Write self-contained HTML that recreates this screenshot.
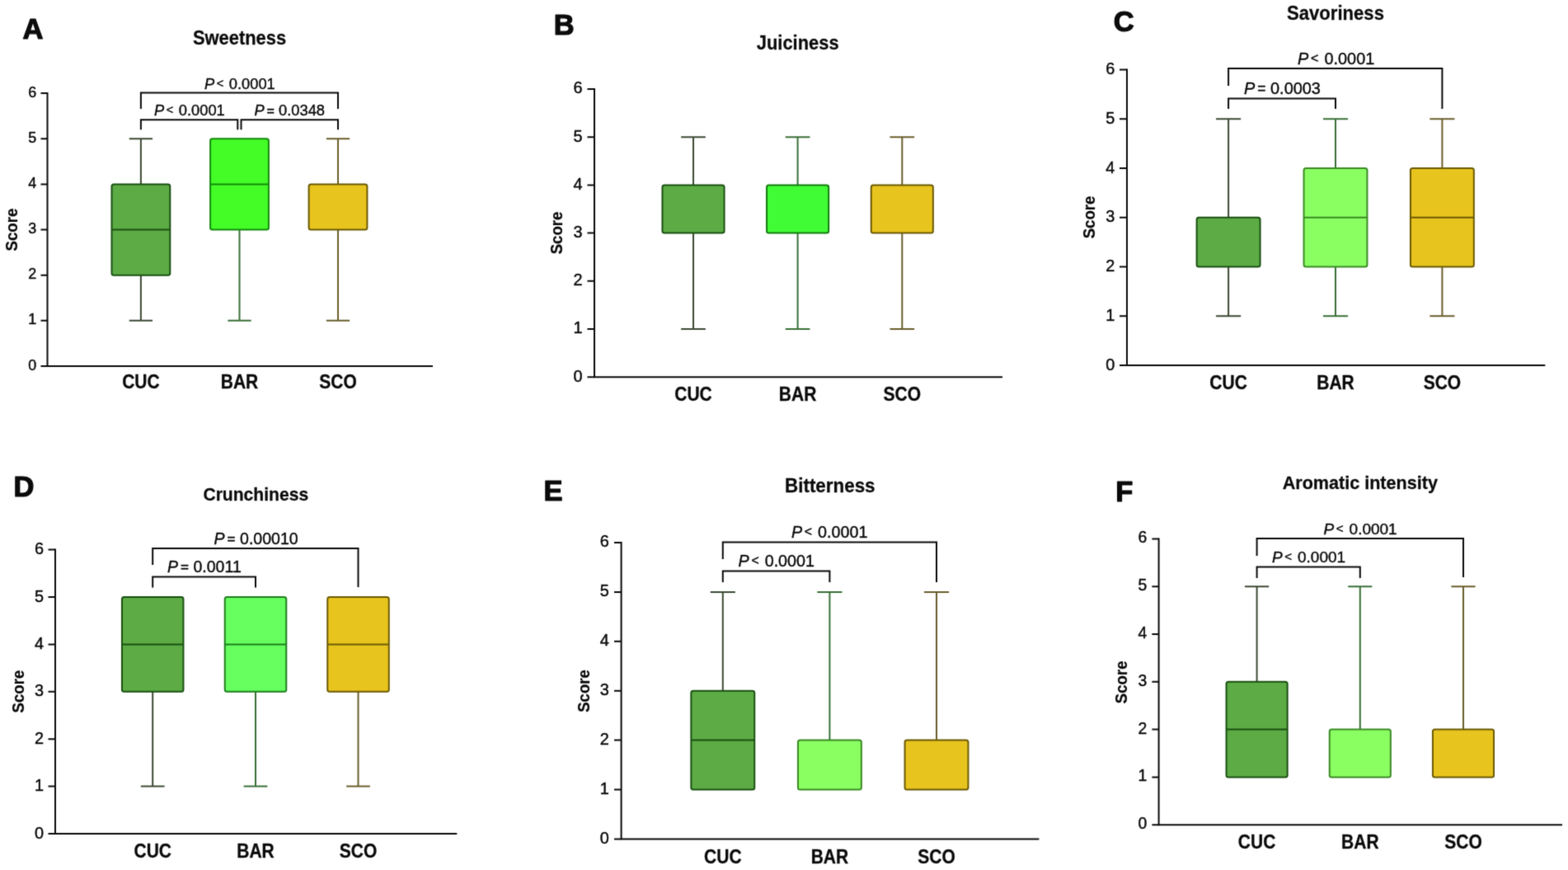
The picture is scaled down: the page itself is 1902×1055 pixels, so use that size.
<!DOCTYPE html>
<html><head><meta charset="utf-8"><title>Sensory scores</title>
<style>
html,body{margin:0;padding:0;background:#fff;overflow:hidden}
svg{display:block}
text{font-family:'Liberation Sans', Arial, Helvetica, sans-serif;fill:#0a0a0a}
.lt{font-size:34.5px;font-weight:700;stroke:#0a0a0a;stroke-width:1.2px;stroke-linejoin:round}
.tt{font-size:21.5px;font-weight:700;text-anchor:middle;stroke:#0a0a0a;stroke-width:0.25px}
.xl{font-size:21px;font-weight:700;text-anchor:middle;stroke:#0a0a0a;stroke-width:0.3px}
.sc{font-size:19.5px;font-weight:700;text-anchor:middle;stroke:#0a0a0a;stroke-width:0.25px}
.tk{font-size:16.5px;text-anchor:end;stroke:#0a0a0a;stroke-width:0.45px}
.pv{white-space:pre;stroke:#0a0a0a;stroke-width:0.4px}
.ax{fill:none;stroke:#0a0a0a;stroke-width:2}
.wk{fill:none;stroke-width:2}
.bx{stroke-width:2}
.md{fill:none;stroke-width:2}
.br{fill:none;stroke:#0a0a0a;stroke-width:2}
</style></head>
<body>
<svg width="1902" height="1055" viewBox="0 0 1902 1055">
<defs><filter id="soft" x="0" y="0" width="1902" height="1055" filterUnits="userSpaceOnUse" color-interpolation-filters="sRGB"><feConvolveMatrix order="3" kernelMatrix="1 5 1 5 25 5 1 5 1" divisor="49" edgeMode="duplicate"/></filter></defs>
<rect width="1902" height="1055" fill="#fff"/>
<g filter="url(#soft)">
<rect width="1902" height="1055" fill="#fff"/>
<text x="27.6" y="46.8" class="lt">A</text>
<text transform="translate(290.5 53.5) scale(1 1.05)" class="tt" style="font-size:21.9px">Sweetness</text>
<text transform="translate(20.8 278.6) rotate(-90) scale(0.955 1)" class="sc">Score</text>
<path d="M57.5 112.1V444H525" class="ax"/>
<path d="M49.5 444H57.5M49.5 388.85H57.5M49.5 333.7H57.5M49.5 278.55H57.5M49.5 223.4H57.5M49.5 168.25H57.5M49.5 113.1H57.5" class="ax"/>
<text transform="translate(44.2 448.5) scale(0.97 1)" class="tk" style="font-size:18.5px">0</text>
<text transform="translate(44.2 393.35) scale(0.97 1)" class="tk" style="font-size:18.5px">1</text>
<text transform="translate(44.2 338.2) scale(0.97 1)" class="tk" style="font-size:18.5px">2</text>
<text transform="translate(44.2 283.05) scale(0.97 1)" class="tk" style="font-size:18.5px">3</text>
<text transform="translate(44.2 227.9) scale(0.97 1)" class="tk" style="font-size:18.5px">4</text>
<text transform="translate(44.2 172.75) scale(0.97 1)" class="tk" style="font-size:18.5px">5</text>
<text transform="translate(44.2 117.6) scale(0.97 1)" class="tk" style="font-size:18.5px">6</text>
<path d="M170.9 168.25V223.4M156.75 168.25H185.05M170.9 333.7V388.85M156.75 388.85H185.05" stroke="#3c4a34" class="wk"/>
<rect x="135.5" y="223.4" width="70.8" height="110.3" rx="2.5" fill="#5cab45" stroke="#1a5012" class="bx"/>
<path d="M135.5 278.55H206.3" stroke="#1a5012" class="md"/>
<text transform="translate(170.9 471) scale(1 1.13)" class="xl">CUC</text>
<path d="M290.5 278.55V388.85M276.35 388.85H304.65" stroke="#3a7038" class="wk"/>
<rect x="255.1" y="168.25" width="70.8" height="110.3" rx="2.5" fill="#44fd27" stroke="#138a0c" class="bx"/>
<path d="M255.1 223.4H325.9" stroke="#138a0c" class="md"/>
<text transform="translate(290.5 471) scale(1 1.13)" class="xl">BAR</text>
<path d="M410 168.25V223.4M395.85 168.25H424.15M410 278.55V388.85M395.85 388.85H424.15" stroke="#6a5e2c" class="wk"/>
<rect x="374.6" y="223.4" width="70.8" height="55.15" rx="2.5" fill="#e8c41e" stroke="#6b5a04" class="bx"/>
<text transform="translate(410 471) scale(1 1.13)" class="xl">SCO</text>
<path d="M170.9 132V112.5H410V132" class="br"/>
<path d="M170.9 157.3V145.3H288.3V157.3" class="br"/>
<path d="M292.5 157.3V145.3H410V157.3" class="br"/>
<text x="248" y="107.6" class="pv" style="font-size:18.3px"><tspan font-style="italic">P</tspan><tspan dx="0.17em" dy="-0.11em" style="font-size:0.8em">&lt;</tspan><tspan dx="0.36em" dy="0.088em">0.0001</tspan></text>
<text x="187" y="140" class="pv" style="font-size:18.3px"><tspan font-style="italic">P</tspan><tspan dx="0.17em" dy="-0.11em" style="font-size:0.8em">&lt;</tspan><tspan dx="0.36em" dy="0.088em">0.0001</tspan></text>
<text x="308.6" y="140.2" class="pv" style="font-size:18.3px"><tspan font-style="italic">P</tspan><tspan dx="0.17em" dy="-0.03em" style="font-size:0.88em">=</tspan><tspan dx="0.28em" dy="0.0264em">0.0348</tspan></text>
<text x="671.8" y="42" class="lt">B</text>
<text transform="translate(967.7 60) scale(1 1.05)" class="tt" style="font-size:21.9px">Juiciness</text>
<text transform="translate(682 282.5) rotate(-90) scale(0.955 1)" class="sc">Score</text>
<path d="M721 107V457.2H1216" class="ax"/>
<path d="M712.5 457.2H721M712.5 399H721M712.5 340.8H721M712.5 282.6H721M712.5 224.4H721M712.5 166.2H721M712.5 108H721" class="ax"/>
<text transform="translate(706.5 462.5) scale(0.97 1)" class="tk" style="font-size:20.5px">0</text>
<text transform="translate(706.5 404.3) scale(0.97 1)" class="tk" style="font-size:20.5px">1</text>
<text transform="translate(706.5 346.1) scale(0.97 1)" class="tk" style="font-size:20.5px">2</text>
<text transform="translate(706.5 287.9) scale(0.97 1)" class="tk" style="font-size:20.5px">3</text>
<text transform="translate(706.5 229.7) scale(0.97 1)" class="tk" style="font-size:20.5px">4</text>
<text transform="translate(706.5 171.5) scale(0.97 1)" class="tk" style="font-size:20.5px">5</text>
<text transform="translate(706.5 113.3) scale(0.97 1)" class="tk" style="font-size:20.5px">6</text>
<path d="M841 166.2V224.4M826.15 166.2H855.85M841 282.6V399M826.15 399H855.85" stroke="#3c4a34" class="wk"/>
<rect x="803.45" y="224.4" width="75.1" height="58.2" rx="2.5" fill="#5cab45" stroke="#1a5012" class="bx"/>
<text transform="translate(841 486) scale(1 1.13)" class="xl">CUC</text>
<path d="M967.6 166.2V224.4M952.75 166.2H982.45M967.6 282.6V399M952.75 399H982.45" stroke="#3a7038" class="wk"/>
<rect x="930.05" y="224.4" width="75.1" height="58.2" rx="2.5" fill="#40fc35" stroke="#137c0e" class="bx"/>
<text transform="translate(967.6 486) scale(1 1.13)" class="xl">BAR</text>
<path d="M1094.3 166.2V224.4M1079.45 166.2H1109.15M1094.3 282.6V399M1079.45 399H1109.15" stroke="#6a5e2c" class="wk"/>
<rect x="1056.75" y="224.4" width="75.1" height="58.2" rx="2.5" fill="#e8c41e" stroke="#6b5a04" class="bx"/>
<text transform="translate(1094.3 486) scale(1 1.13)" class="xl">SCO</text>
<text x="1350.8" y="37.8" class="lt">C</text>
<text transform="translate(1620 23.6) scale(1 1.05)" class="tt" style="font-size:22.1px">Savoriness</text>
<text transform="translate(1327.5 263.5) rotate(-90) scale(0.955 1)" class="sc">Score</text>
<path d="M1367 83.5V443H1874.3" class="ax"/>
<path d="M1358 443H1367M1358 383.25H1367M1358 323.5H1367M1358 263.75H1367M1358 204H1367M1358 144.25H1367M1358 84.5H1367" class="ax"/>
<text transform="translate(1352.4 448.6) scale(0.97 1)" class="tk" style="font-size:20.5px">0</text>
<text transform="translate(1352.4 388.85) scale(0.97 1)" class="tk" style="font-size:20.5px">1</text>
<text transform="translate(1352.4 329.1) scale(0.97 1)" class="tk" style="font-size:20.5px">2</text>
<text transform="translate(1352.4 269.35) scale(0.97 1)" class="tk" style="font-size:20.5px">3</text>
<text transform="translate(1352.4 209.6) scale(0.97 1)" class="tk" style="font-size:20.5px">4</text>
<text transform="translate(1352.4 149.85) scale(0.97 1)" class="tk" style="font-size:20.5px">5</text>
<text transform="translate(1352.4 90.1) scale(0.97 1)" class="tk" style="font-size:20.5px">6</text>
<path d="M1490.1 144.25V263.75M1475.05 144.25H1505.15M1490.1 323.5V383.25M1475.05 383.25H1505.15" stroke="#3c4a34" class="wk"/>
<rect x="1451.65" y="263.75" width="76.9" height="59.75" rx="2.5" fill="#5cab45" stroke="#1a5012" class="bx"/>
<text transform="translate(1490.1 472) scale(1 1.13)" class="xl">CUC</text>
<path d="M1620 144.25V204M1604.95 144.25H1635.05M1620 323.5V383.25M1604.95 383.25H1635.05" stroke="#3a7038" class="wk"/>
<rect x="1581.55" y="204" width="76.9" height="119.5" rx="2.5" fill="#8aff62" stroke="#3a8a24" class="bx"/>
<path d="M1581.55 263.75H1658.45" stroke="#3a8a24" class="md"/>
<text transform="translate(1620 472) scale(1 1.13)" class="xl">BAR</text>
<path d="M1749.4 144.25V204M1734.35 144.25H1764.45M1749.4 323.5V383.25M1734.35 383.25H1764.45" stroke="#6a5e2c" class="wk"/>
<rect x="1710.95" y="204" width="76.9" height="119.5" rx="2.5" fill="#e8c41e" stroke="#6b5a04" class="bx"/>
<path d="M1710.95 263.75H1787.85" stroke="#6b5a04" class="md"/>
<text transform="translate(1749.4 472) scale(1 1.13)" class="xl">SCO</text>
<path d="M1490.1 104V83H1749.4V132" class="br"/>
<path d="M1490.1 132V119.4H1620V132" class="br"/>
<text x="1574" y="78" class="pv" style="font-size:19.9px"><tspan font-style="italic">P</tspan><tspan dx="0.17em" dy="-0.11em" style="font-size:0.8em">&lt;</tspan><tspan dx="0.36em" dy="0.088em">0.0001</tspan></text>
<text x="1509" y="113.6" class="pv" style="font-size:19.9px"><tspan font-style="italic">P</tspan><tspan dx="0.17em" dy="-0.03em" style="font-size:0.88em">=</tspan><tspan dx="0.28em" dy="0.0264em">0.0003</tspan></text>
<text x="16.4" y="601.8" class="lt">D</text>
<text transform="translate(310.3 607.4) scale(1 1.05)" class="tt" style="font-size:21.1px">Crunchiness</text>
<text transform="translate(28.5 838.6) rotate(-90) scale(0.955 1)" class="sc">Score</text>
<path d="M67 665.6V1011H554.3" class="ax"/>
<path d="M58.5 1011H67M58.5 953.6H67M58.5 896.2H67M58.5 838.8H67M58.5 781.4H67M58.5 724H67M58.5 666.6H67" class="ax"/>
<text transform="translate(53.1 1016.5) scale(0.97 1)" class="tk" style="font-size:20.5px">0</text>
<text transform="translate(53.1 959.1) scale(0.97 1)" class="tk" style="font-size:20.5px">1</text>
<text transform="translate(53.1 901.7) scale(0.97 1)" class="tk" style="font-size:20.5px">2</text>
<text transform="translate(53.1 844.3) scale(0.97 1)" class="tk" style="font-size:20.5px">3</text>
<text transform="translate(53.1 786.9) scale(0.97 1)" class="tk" style="font-size:20.5px">4</text>
<text transform="translate(53.1 729.5) scale(0.97 1)" class="tk" style="font-size:20.5px">5</text>
<text transform="translate(53.1 672.1) scale(0.97 1)" class="tk" style="font-size:20.5px">6</text>
<path d="M185.2 838.8V953.6M170.85 953.6H199.55" stroke="#3c4a34" class="wk"/>
<rect x="147.95" y="724" width="74.5" height="114.8" rx="2.5" fill="#5cab45" stroke="#1a5012" class="bx"/>
<path d="M147.95 781.4H222.45" stroke="#1a5012" class="md"/>
<text transform="translate(185.2 1040) scale(1 1.13)" class="xl">CUC</text>
<path d="M310 838.8V953.6M295.65 953.6H324.35" stroke="#3a7038" class="wk"/>
<rect x="272.75" y="724" width="74.5" height="114.8" rx="2.5" fill="#66ff5f" stroke="#1f7e1f" class="bx"/>
<path d="M272.75 781.4H347.25" stroke="#1f7e1f" class="md"/>
<text transform="translate(310 1040) scale(1 1.13)" class="xl">BAR</text>
<path d="M434.5 838.8V953.6M420.15 953.6H448.85" stroke="#6a5e2c" class="wk"/>
<rect x="397.25" y="724" width="74.5" height="114.8" rx="2.5" fill="#e8c41e" stroke="#6b5a04" class="bx"/>
<path d="M397.25 781.4H471.75" stroke="#6b5a04" class="md"/>
<text transform="translate(434.5 1040) scale(1 1.13)" class="xl">SCO</text>
<path d="M185.2 685V665H434.5V712" class="br"/>
<path d="M185.2 712.4V699.4H310V712.4" class="br"/>
<text x="259.6" y="660" class="pv" style="font-size:19.55px"><tspan font-style="italic">P</tspan><tspan dx="0.17em" dy="-0.03em" style="font-size:0.88em">=</tspan><tspan dx="0.28em" dy="0.0264em">0.00010</tspan></text>
<text x="203" y="694" class="pv" style="font-size:19.55px"><tspan font-style="italic">P</tspan><tspan dx="0.17em" dy="-0.03em" style="font-size:0.88em">=</tspan><tspan dx="0.28em" dy="0.0264em">0.0011</tspan></text>
<text x="659.6" y="607.4" class="lt">E</text>
<text transform="translate(1006.8 597) scale(1 1.05)" class="tt" style="font-size:22.4px">Bitterness</text>
<text transform="translate(714.5 838) rotate(-90) scale(0.955 1)" class="sc">Score</text>
<path d="M753.6 657V1017.4H1260.4" class="ax"/>
<path d="M745 1017.4H753.6M745 957.5H753.6M745 897.6H753.6M745 837.7H753.6M745 777.8H753.6M745 717.9H753.6M745 658H753.6" class="ax"/>
<text transform="translate(738.9 1022.6) scale(0.97 1)" class="tk" style="font-size:20.5px">0</text>
<text transform="translate(738.9 962.7) scale(0.97 1)" class="tk" style="font-size:20.5px">1</text>
<text transform="translate(738.9 902.8) scale(0.97 1)" class="tk" style="font-size:20.5px">2</text>
<text transform="translate(738.9 842.9) scale(0.97 1)" class="tk" style="font-size:20.5px">3</text>
<text transform="translate(738.9 783) scale(0.97 1)" class="tk" style="font-size:20.5px">4</text>
<text transform="translate(738.9 723.1) scale(0.97 1)" class="tk" style="font-size:20.5px">5</text>
<text transform="translate(738.9 663.2) scale(0.97 1)" class="tk" style="font-size:20.5px">6</text>
<path d="M876.8 717.9V837.7M861.75 717.9H891.85" stroke="#3c4a34" class="wk"/>
<rect x="838.35" y="837.7" width="76.9" height="119.8" rx="2.5" fill="#5cab45" stroke="#1a5012" class="bx"/>
<path d="M838.35 897.6H915.25" stroke="#1a5012" class="md"/>
<text transform="translate(876.8 1046.7) scale(1 1.13)" class="xl">CUC</text>
<path d="M1006.4 717.9V897.6M991.35 717.9H1021.45" stroke="#3a7038" class="wk"/>
<rect x="967.95" y="897.6" width="76.9" height="59.9" rx="2.5" fill="#8aff62" stroke="#3a8a24" class="bx"/>
<text transform="translate(1006.4 1046.7) scale(1 1.13)" class="xl">BAR</text>
<path d="M1136 717.9V897.6M1120.95 717.9H1151.05" stroke="#6a5e2c" class="wk"/>
<rect x="1097.55" y="897.6" width="76.9" height="59.9" rx="2.5" fill="#e8c41e" stroke="#6b5a04" class="bx"/>
<text transform="translate(1136 1046.7) scale(1 1.13)" class="xl">SCO</text>
<path d="M876.8 678V657.4H1136V706" class="br"/>
<path d="M876.8 706V692.4H1006.4V706" class="br"/>
<text x="960" y="651.6" class="pv" style="font-size:19.7px"><tspan font-style="italic">P</tspan><tspan dx="0.17em" dy="-0.11em" style="font-size:0.8em">&lt;</tspan><tspan dx="0.36em" dy="0.088em">0.0001</tspan></text>
<text x="895.6" y="687" class="pv" style="font-size:19.7px"><tspan font-style="italic">P</tspan><tspan dx="0.17em" dy="-0.11em" style="font-size:0.8em">&lt;</tspan><tspan dx="0.36em" dy="0.088em">0.0001</tspan></text>
<text x="1353.2" y="607.8" class="lt">F</text>
<text transform="translate(1649.8 593) scale(1 1.05)" class="tt" style="font-size:21.6px">Aromatic intensity</text>
<text transform="translate(1366.9 827.3) rotate(-90) scale(0.955 1)" class="sc">Score</text>
<path d="M1405.6 652.4V1000.2H1895" class="ax"/>
<path d="M1397.4 1000.2H1405.6M1397.4 942.4H1405.6M1397.4 884.6H1405.6M1397.4 826.8H1405.6M1397.4 769H1405.6M1397.4 711.2H1405.6M1397.4 653.4H1405.6" class="ax"/>
<text transform="translate(1391.2 1005.2) scale(0.97 1)" class="tk" style="font-size:20px">0</text>
<text transform="translate(1391.2 947.4) scale(0.97 1)" class="tk" style="font-size:20px">1</text>
<text transform="translate(1391.2 889.6) scale(0.97 1)" class="tk" style="font-size:20px">2</text>
<text transform="translate(1391.2 831.8) scale(0.97 1)" class="tk" style="font-size:20px">3</text>
<text transform="translate(1391.2 774) scale(0.97 1)" class="tk" style="font-size:20px">4</text>
<text transform="translate(1391.2 716.2) scale(0.97 1)" class="tk" style="font-size:20px">5</text>
<text transform="translate(1391.2 658.4) scale(0.97 1)" class="tk" style="font-size:20px">6</text>
<path d="M1524.6 711.2V826.8M1510 711.2H1539.2" stroke="#3c4a34" class="wk"/>
<rect x="1487.55" y="826.8" width="74.1" height="115.6" rx="2.5" fill="#5cab45" stroke="#1a5012" class="bx"/>
<path d="M1487.55 884.6H1561.65" stroke="#1a5012" class="md"/>
<text transform="translate(1524.6 1028.7) scale(1 1.13)" class="xl">CUC</text>
<path d="M1649.8 711.2V884.6M1635.2 711.2H1664.4" stroke="#3a7038" class="wk"/>
<rect x="1612.75" y="884.6" width="74.1" height="57.8" rx="2.5" fill="#8aff62" stroke="#3a8a24" class="bx"/>
<text transform="translate(1649.8 1028.7) scale(1 1.13)" class="xl">BAR</text>
<path d="M1775 711.2V884.6M1760.4 711.2H1789.6" stroke="#6a5e2c" class="wk"/>
<rect x="1737.95" y="884.6" width="74.1" height="57.8" rx="2.5" fill="#e8c41e" stroke="#6b5a04" class="bx"/>
<text transform="translate(1775 1028.7) scale(1 1.13)" class="xl">SCO</text>
<path d="M1524.6 674V653H1775V700" class="br"/>
<path d="M1524.6 701V687.4H1649.8V701" class="br"/>
<text x="1605.6" y="648" class="pv" style="font-size:19px"><tspan font-style="italic">P</tspan><tspan dx="0.17em" dy="-0.11em" style="font-size:0.8em">&lt;</tspan><tspan dx="0.36em" dy="0.088em">0.0001</tspan></text>
<text x="1543" y="682" class="pv" style="font-size:19px"><tspan font-style="italic">P</tspan><tspan dx="0.17em" dy="-0.11em" style="font-size:0.8em">&lt;</tspan><tspan dx="0.36em" dy="0.088em">0.0001</tspan></text>
</g>
</svg>
</body></html>
